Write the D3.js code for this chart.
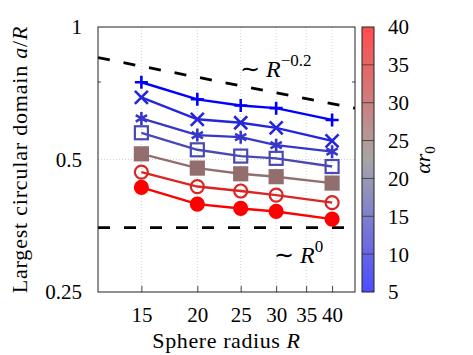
<!DOCTYPE html>
<html>
<head>
<meta charset="utf-8">
<script src="https://cdn.jsdelivr.net/npm/d3@7"></script>
<style>
  body { margin: 0; background: #fff; }
  text { font-family: "Liberation Serif", "Times New Roman", serif; fill: #000; }
</style>
</head>
<body>
<script>
// data
const radii = [15, 20, 25, 30, 40];
const alphaR0 = [5, 10, 12.5, 15, 25, 35, 40];
const markerKind = ["plus", "cross", "asterisk", "square", "squareFilled", "circle", "circleFilled"];
const domainSize = [
  [0.749, 0.685, 0.663, 0.654, 0.615],
  [0.692, 0.617, 0.606, 0.590, 0.551],
  [0.620, 0.568, 0.562, 0.539, 0.521],
  [0.575, 0.526, 0.509, 0.503, 0.482],
  [0.515, 0.478, 0.464, 0.457, 0.442],
  [0.468, 0.434, 0.424, 0.415, 0.399],
  [0.432, 0.396, 0.387, 0.381, 0.366]
];
const xTicks = [15, 20, 25, 30, 35, 40];
const yTicks = [0.25, 0.5, 1];
const yMinorTicks = [0.75];
const cbTicks = [5, 10, 15, 20, 25, 30, 35, 40];
// guide lines  a/R ~ c * R^p
const guidePrefactor = [1.4, 0.35];
const guideExponent = [-0.2, 0];

const W = 473, H = 355;
const m = { left: 98, right: 355, top: 27, bottom: 292 };

const svg = d3.select("body").append("svg")
  .attr("width", W).attr("height", H)
  .attr("xmlns", "http://www.w3.org/2000/svg");

const x = d3.scaleLog().domain([12, 45]).range([m.left, m.right]);
const y = d3.scaleLog().domain([0.25, 1]).range([m.bottom, m.top]);
const cmap = d3.scaleLinear().domain([5, 22.5, 40]).range(["#0000ff", "#808080", "#ff0000"]);

// grid (dotted)
const grid = svg.append("g").attr("stroke", "#c8c8c8").attr("stroke-width", 0.8).attr("stroke-dasharray", "1,2");
xTicks.forEach(t => {
  grid.append("line").attr("x1", x(t)).attr("x2", x(t)).attr("y1", m.top).attr("y2", m.bottom);
});
grid.append("line").attr("x1", m.left).attr("x2", m.right).attr("y1", y(0.5)).attr("y2", y(0.5));

// axes via d3
const xAxis = d3.axisBottom(x).tickValues(xTicks).tickFormat(d3.format("d")).tickSizeInner(-6).tickSizeOuter(0);
const gx = svg.append("g").attr("transform", `translate(0,${m.bottom})`).call(xAxis);
gx.select(".domain").remove();
gx.selectAll(".tick line").attr("stroke", "#444");
gx.selectAll(".tick text").attr("y", 30).attr("dy", 0)
  .style("font-family", "Liberation Serif").style("font-size", "21px");

const yAxis = d3.axisLeft(y).tickValues(yTicks).tickFormat(d => d3.format("")(d)).tickSizeInner(0).tickSizeOuter(0);
const gy = svg.append("g").attr("transform", `translate(${m.left},0)`).call(yAxis);
gy.select(".domain").remove();
gy.selectAll(".tick text").attr("x", -16).attr("dy", "0.33em")
  .style("font-family", "Liberation Serif").style("font-size", "21px");

// minor y ticks both sides
yMinorTicks.forEach(t => {
  svg.append("line").attr("x1", m.left).attr("x2", m.left + 3).attr("y1", y(t)).attr("y2", y(t)).attr("stroke", "#444");
  svg.append("line").attr("x1", m.right).attr("x2", m.right - 3).attr("y1", y(t)).attr("y2", y(t)).attr("stroke", "#444");
});

// clip for guide lines
svg.append("clipPath").attr("id", "plotclip").append("rect")
  .attr("x", m.left).attr("y", m.top).attr("width", m.right - m.left).attr("height", m.bottom - m.top);

// dashed guides
const guideLine = d3.line().x(d => x(d[0])).y(d => y(d[1]));
guidePrefactor.forEach((c, i) => {
  const pts = x.domain().map(r => [r, c * Math.pow(r, guideExponent[i])]);
  svg.append("path").attr("d", guideLine(pts))
    .attr("clip-path", "url(#plotclip)")
    .attr("fill", "none").attr("stroke", "#000").attr("stroke-width", 2.8)
    .attr("stroke-dasharray", "12,14");
});

// guide annotations
const ann1 = svg.append("text").attr("x", 240).attr("y", 77).style("font-size", "24px");
ann1.append("tspan").text("∼ ");
ann1.append("tspan").style("font-style", "italic").text("R");
ann1.append("tspan").attr("dy", -11).style("font-size", "17px").text("−0.2");
const ann2 = svg.append("text").attr("x", 274).attr("y", 263).style("font-size", "24px");
ann2.append("tspan").text("∼ ");
ann2.append("tspan").style("font-style", "italic").text("R");
ann2.append("tspan").attr("dy", -11).style("font-size", "17px").text("0");

// series
const line = d3.line().x((d, i) => x(radii[i])).y(d => y(d));

function drawMarker(g, kind, cx, cy, col) {
  const s = 6.5;
  if (kind === "plus") {
    g.append("path").attr("d", `M${cx - s},${cy}H${cx + s}M${cx},${cy - s}V${cy + s}`)
      .attr("stroke", col).attr("stroke-width", 2.6).attr("fill", "none");
  } else if (kind === "cross") {
    g.append("path").attr("d", `M${cx - s},${cy - s}L${cx + s},${cy + s}M${cx - s},${cy + s}L${cx + s},${cy - s}`)
      .attr("stroke", col).attr("stroke-width", 2.6).attr("fill", "none");
  } else if (kind === "asterisk") {
    let d = "";
    [90, 30, 150].forEach(a => {
      const dx = s * Math.cos(a * Math.PI / 180), dy = s * Math.sin(a * Math.PI / 180);
      d += `M${cx - dx},${cy - dy}L${cx + dx},${cy + dy}`;
    });
    g.append("path").attr("d", d).attr("stroke", col).attr("stroke-width", 2.6).attr("fill", "none");
  } else if (kind === "square" || kind === "squareFilled") {
    g.append("rect").attr("x", cx - 6.5).attr("y", cy - 6.5).attr("width", 13).attr("height", 13)
      .attr("stroke", col).attr("stroke-width", 2.2)
      .attr("fill", kind === "squareFilled" ? col : "none");
  } else {
    g.append("circle").attr("cx", cx).attr("cy", cy).attr("r", 6.5)
      .attr("stroke", col).attr("stroke-width", 2.2)
      .attr("fill", kind === "circleFilled" ? col : "none");
  }
}

domainSize.forEach((vals, k) => {
  const col = cmap(alphaR0[k]);
  const g = svg.append("g");
  g.append("path").attr("d", line(vals)).attr("fill", "none").attr("stroke", col).attr("stroke-width", 2.4);
  vals.forEach((v, i) => drawMarker(g, markerKind[k], x(radii[i]), y(v), col));
});

// frame
svg.append("rect").attr("x", m.left).attr("y", m.top).attr("width", m.right - m.left).attr("height", m.bottom - m.top)
  .attr("fill", "none").attr("stroke", "#222").attr("stroke-width", 1);

// axis labels
svg.append("text").attr("x", (m.left + m.right) / 2).attr("y", 348).attr("text-anchor", "middle")
  .style("font-size", "22px").style("letter-spacing", "0.6px")
  .call(t => {
    t.append("tspan").text("Sphere radius ");
    t.append("tspan").style("font-style", "italic").text("R");
  });

svg.append("text").attr("transform", `translate(27,${(m.top + m.bottom) / 2}) rotate(-90)`).attr("text-anchor", "middle")
  .style("font-size", "22px").style("letter-spacing", "0.8px")
  .call(t => {
    t.append("tspan").text("Largest circular domain ");
    t.append("tspan").style("font-style", "italic").text("a");
    t.append("tspan").text("/");
    t.append("tspan").style("font-style", "italic").text("R");
  });

// colorbar
const cb = { x: 362, w: 12 };
const cy = d3.scaleLinear().domain([5, 40]).range([m.bottom, m.top]);
const grad = svg.append("defs").append("linearGradient").attr("id", "cbgrad")
  .attr("x1", 0).attr("y1", 1).attr("x2", 0).attr("y2", 0);
cmap.domain().forEach(v => {
  grad.append("stop").attr("offset", (v - 5) / 35).attr("stop-color", cmap(v));
});
svg.append("rect").attr("x", cb.x).attr("y", m.top).attr("width", cb.w).attr("height", m.bottom - m.top)
  .attr("fill", "url(#cbgrad)").attr("fill-opacity", 0.7);
const cbAxis = d3.axisRight(cy).tickValues(cbTicks).tickSizeInner(0).tickSizeOuter(0).tickFormat(d3.format("d"));
const gcb = svg.append("g").attr("transform", `translate(${cb.x + cb.w},0)`).call(cbAxis);
gcb.select(".domain").remove();
gcb.selectAll(".tick text").attr("x", 14).attr("dy", "0.33em")
  .style("font-family", "Liberation Serif").style("font-size", "21px");
cbTicks.slice(1, -1).forEach(t => {
  svg.append("line").attr("x1", cb.x).attr("x2", cb.x + cb.w).attr("y1", cy(t)).attr("y2", cy(t))
    .attr("stroke", "#333").attr("stroke-width", 0.8);
});
svg.append("rect").attr("x", cb.x).attr("y", m.top).attr("width", cb.w).attr("height", m.bottom - m.top)
  .attr("fill", "none").attr("stroke", "#222").attr("stroke-width", 1);

svg.append("text").attr("transform", `translate(430,160) rotate(-90)`).attr("text-anchor", "middle")
  .style("font-size", "22px").style("font-style", "italic")
  .call(t => {
    t.append("tspan").text("αr");
    t.append("tspan").attr("dy", 5).style("font-size", "15px").style("font-style", "normal").text("0");
  });
</script>
</body>
</html>
